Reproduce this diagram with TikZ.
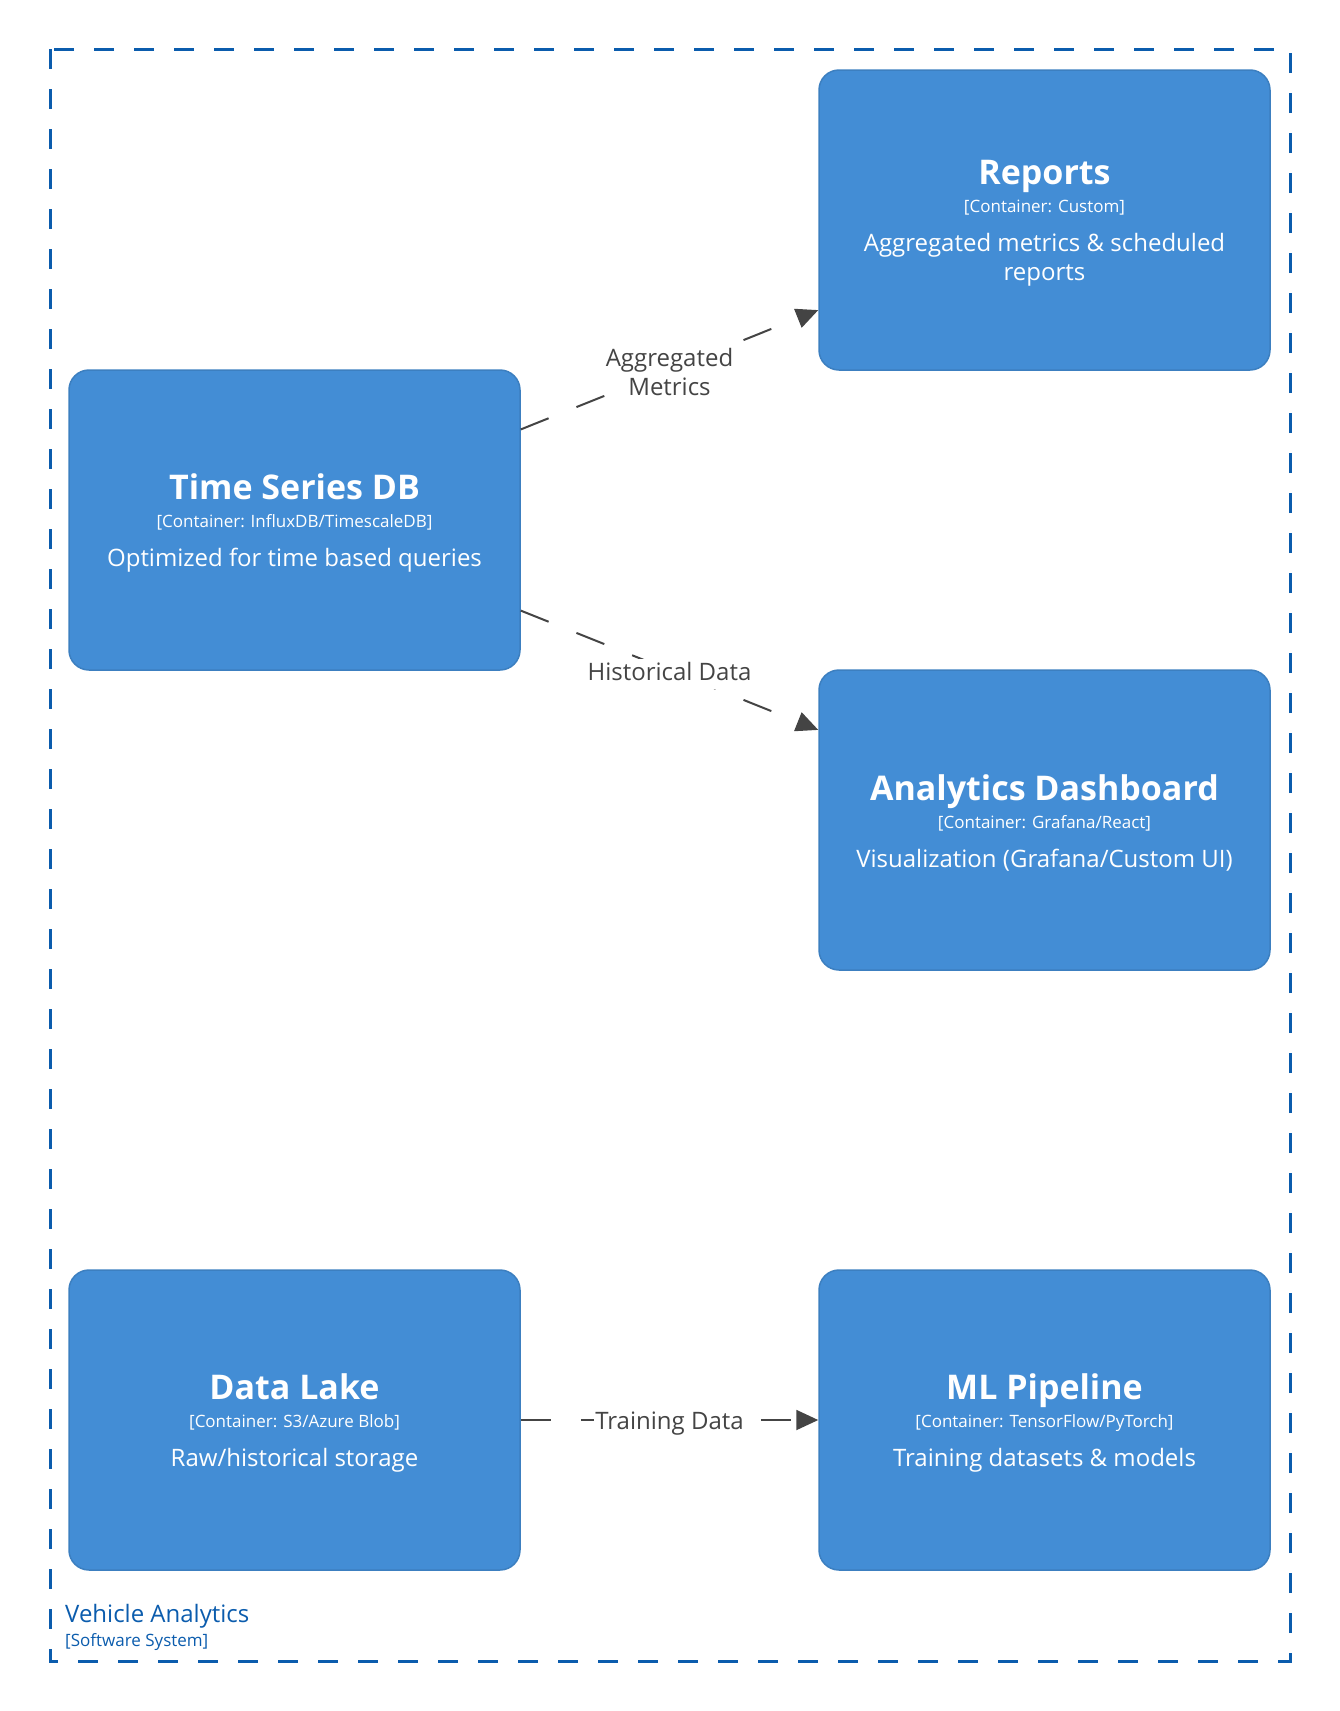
\documentclass[tikz,border=0pt]{standalone}
\usepackage{fontspec}
\setmainfont{Open Sans}
\usetikzlibrary{arrows.meta}
\definecolor{containerblue}{HTML}{438DD5}
\definecolor{containerline}{HTML}{3C7FC0}
\definecolor{boundaryblue}{HTML}{0B5CAD}
\definecolor{relgray}{HTML}{444444}
\newcommand{\containertext}[3]{\begin{minipage}{440pt}\vspace*{6.6pt}\centering\fontsize{34}{34}\selectfont\bfseries #1\par\fontsize{17}{28}\selectfont\mdseries [Container: #2]\par\vspace{9.5pt}\fontsize{24}{29.5}\selectfont #3\par\end{minipage}}
\tikzset{
	container/.style={draw=containerline, line width=1.5pt, fill=containerblue, rounded corners=20pt, minimum width=451pt, minimum height=300pt, text=white, inner sep=0pt},
	relation/.style={draw=relgray, line width=2pt, dash pattern=on 30pt off 30pt, -{Triangle[length=22pt,width=20pt]}},
	rellabel/.style={fill=white, text=relgray, inner sep=1pt, align=center, font=\fontsize{24}{29}\selectfont},
	linelabel/.style={rellabel, text depth=6pt, inner ysep=3pt, yshift=-4pt}
}

\begin{document}
\begin{tikzpicture}[x=1pt, y=-1pt]
			%%%%% START %%%%%
			
			\useasboundingbox (0, 0) rectangle (1340, 1711);
			
			\draw[boundaryblue, line width=3pt, dash pattern=on 20pt off 20pt] (50, 49) rectangle (1290, 1661);
			
			\node[container] (tsdb) at (294.5, 520) {\containertext{Time Series DB}{InfluxDB/TimescaleDB}{Optimized for time based queries}};
			\node[container] (reports) at (1044.5, 220) {\containertext{Reports}{Custom}{Aggregated metrics \& scheduled\\reports}};
			\node[container] (dashboard) at (1044.5, 820) {\containertext{Analytics Dashboard}{Grafana/React}{Visualization (Grafana/Custom UI)}};
			\node[container] (lake) at (294.5, 1420) {\containertext{Data Lake}{S3/Azure Blob}{Raw/historical storage}};
			\node[container] (pipeline) at (1044.5, 1420) {\containertext{ML Pipeline}{TensorFlow/PyTorch}{Training datasets \& models}};
			
			\draw[relation] (tsdb) -- node[rellabel, yshift=-2pt] {Aggregated\\Metrics} (reports);
			\draw[relation] (tsdb) -- node[linelabel] {Historical Data} (dashboard);
			\draw[relation] (lake) -- node[linelabel] {Training Data} (pipeline);
			
			\node[anchor=base west, inner sep=0pt, text=boundaryblue, font=\fontsize{24}{24}\selectfont] (sysname) at (65, 1622) {Vehicle Analytics};
			\node[anchor=base west, inner sep=0pt, text=boundaryblue, font=\fontsize{17}{17}\selectfont] (systype) at (65, 1646) {[Software System]};
			
			%%%%% END %%%%%
\end{tikzpicture}
\end{document}
